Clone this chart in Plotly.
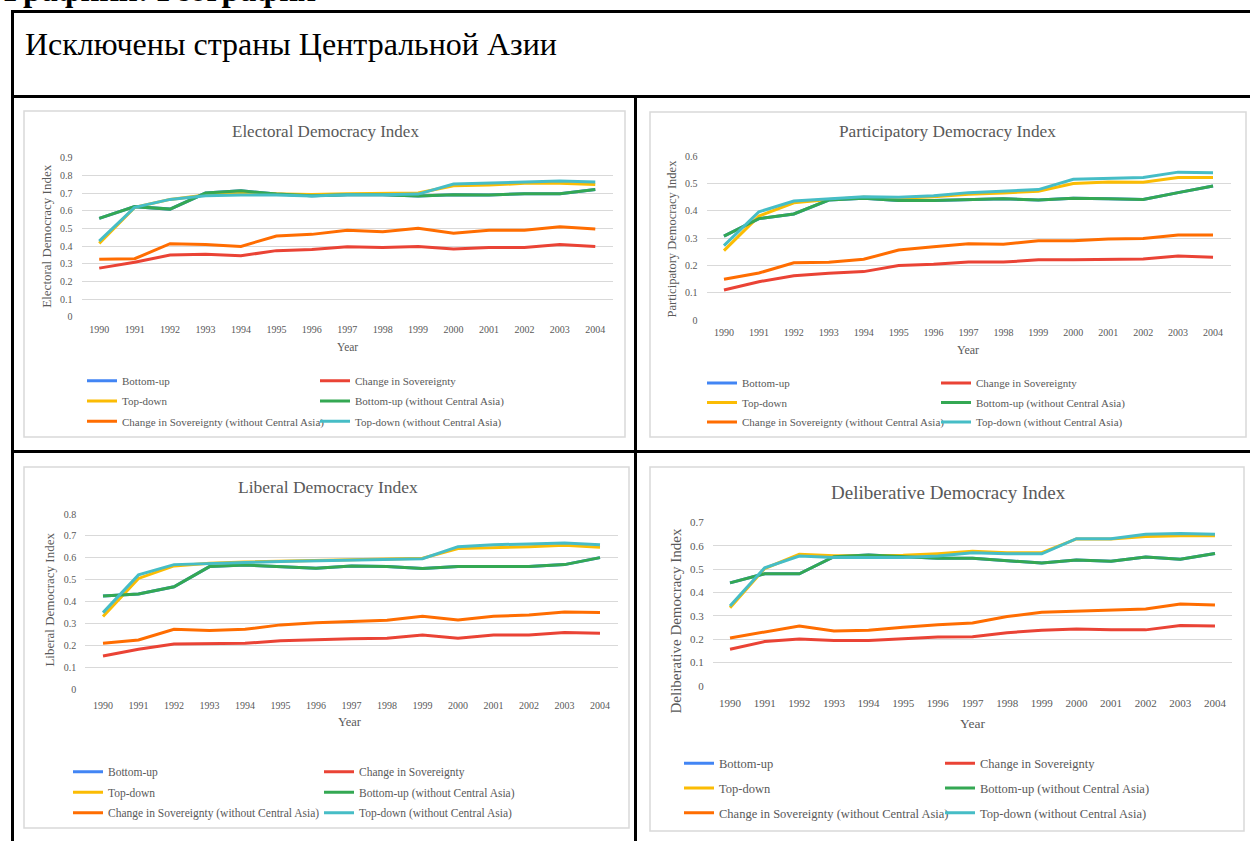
import plotly.graph_objects as go

W, H = 1250, 841

years = list(range(1990, 2005))
series_names = [
    "Bottom-up",
    "Change in Sovereignty",
    "Top-down",
    "Bottom-up (without Central Asia)",
    "Change in Sovereignty (without Central Asia)",
    "Top-down (without Central Asia)",
]
series_colors = ["#4285F4", "#EA4335", "#FBBC04", "#34A853", "#FF6D01", "#46BDC6"]

# Electoral Democracy Index
electoral_bottom_up = [0.557, 0.623, 0.609, 0.700, 0.713, 0.694, 0.685, 0.690, 0.690, 0.683, 0.690, 0.689, 0.696, 0.696, 0.720]
electoral_change = [0.275, 0.308, 0.349, 0.353, 0.345, 0.374, 0.381, 0.396, 0.392, 0.398, 0.383, 0.392, 0.392, 0.409, 0.398]
electoral_top_down = [0.415, 0.619, 0.664, 0.689, 0.698, 0.694, 0.692, 0.696, 0.698, 0.700, 0.741, 0.745, 0.755, 0.755, 0.749]
electoral_bottom_up_noca = [0.557, 0.623, 0.609, 0.700, 0.713, 0.694, 0.685, 0.690, 0.690, 0.683, 0.690, 0.689, 0.696, 0.696, 0.720]
electoral_change_noca = [0.325, 0.328, 0.413, 0.408, 0.398, 0.457, 0.466, 0.489, 0.481, 0.500, 0.472, 0.489, 0.489, 0.509, 0.496]
electoral_top_down_noca = [0.428, 0.619, 0.664, 0.685, 0.689, 0.689, 0.683, 0.690, 0.690, 0.694, 0.751, 0.757, 0.764, 0.768, 0.762]

# Participatory Democracy Index
particip_bottom_up = [0.307, 0.371, 0.388, 0.439, 0.445, 0.437, 0.437, 0.441, 0.444, 0.439, 0.445, 0.444, 0.441, 0.466, 0.490]
particip_change = [0.110, 0.140, 0.162, 0.171, 0.177, 0.199, 0.204, 0.212, 0.212, 0.220, 0.220, 0.222, 0.223, 0.234, 0.230]
particip_top_down = [0.254, 0.380, 0.429, 0.441, 0.449, 0.445, 0.451, 0.460, 0.465, 0.471, 0.499, 0.505, 0.504, 0.521, 0.521]
particip_bottom_up_noca = [0.307, 0.371, 0.388, 0.439, 0.445, 0.437, 0.437, 0.441, 0.444, 0.439, 0.445, 0.444, 0.441, 0.466, 0.490]
particip_change_noca = [0.149, 0.172, 0.209, 0.211, 0.222, 0.256, 0.268, 0.279, 0.277, 0.290, 0.290, 0.296, 0.298, 0.311, 0.311]
particip_top_down_noca = [0.272, 0.396, 0.435, 0.444, 0.451, 0.449, 0.455, 0.466, 0.472, 0.477, 0.515, 0.518, 0.521, 0.541, 0.539]

# Liberal Democracy Index
liberal_bottom_up = [0.426, 0.435, 0.468, 0.560, 0.567, 0.560, 0.552, 0.563, 0.560, 0.551, 0.560, 0.560, 0.560, 0.569, 0.601]
liberal_change = [0.152, 0.183, 0.207, 0.210, 0.210, 0.221, 0.227, 0.231, 0.233, 0.248, 0.233, 0.248, 0.248, 0.259, 0.256]
liberal_top_down = [0.332, 0.506, 0.563, 0.575, 0.581, 0.584, 0.587, 0.590, 0.593, 0.598, 0.642, 0.645, 0.651, 0.657, 0.648]
liberal_bottom_up_noca = [0.426, 0.435, 0.468, 0.560, 0.567, 0.560, 0.552, 0.563, 0.560, 0.551, 0.560, 0.560, 0.560, 0.569, 0.601]
liberal_change_noca = [0.210, 0.225, 0.274, 0.268, 0.274, 0.294, 0.304, 0.310, 0.315, 0.333, 0.316, 0.333, 0.339, 0.353, 0.350]
liberal_top_down_noca = [0.350, 0.522, 0.569, 0.575, 0.579, 0.583, 0.586, 0.589, 0.592, 0.596, 0.651, 0.660, 0.663, 0.668, 0.660]

# Deliberative Democracy Index
delib_bottom_up = [0.441, 0.480, 0.480, 0.553, 0.560, 0.553, 0.546, 0.546, 0.536, 0.526, 0.539, 0.533, 0.552, 0.542, 0.567]
delib_change = [0.157, 0.190, 0.201, 0.195, 0.195, 0.201, 0.210, 0.211, 0.228, 0.238, 0.244, 0.240, 0.240, 0.259, 0.257]
delib_top_down = [0.335, 0.502, 0.563, 0.557, 0.557, 0.559, 0.566, 0.576, 0.570, 0.570, 0.629, 0.629, 0.639, 0.643, 0.642]
delib_bottom_up_noca = [0.441, 0.480, 0.480, 0.553, 0.560, 0.553, 0.546, 0.546, 0.536, 0.526, 0.539, 0.533, 0.552, 0.542, 0.567]
delib_change_noca = [0.205, 0.230, 0.257, 0.235, 0.238, 0.251, 0.262, 0.269, 0.297, 0.315, 0.319, 0.325, 0.329, 0.351, 0.346]
delib_top_down_noca = [0.342, 0.505, 0.556, 0.549, 0.549, 0.549, 0.556, 0.570, 0.565, 0.565, 0.630, 0.630, 0.649, 0.652, 0.649]

chart_titles = ["Electoral Democracy Index", "Participatory Democracy Index",
                "Liberal Democracy Index", "Deliberative Democracy Index"]
y_titles = chart_titles
x_title = "Year"
page_title = "Графики: География"
header_text = "Исключены страны Центральной Азии"

panel_series = [
    [electoral_bottom_up, electoral_change, electoral_top_down,
     electoral_bottom_up_noca, electoral_change_noca, electoral_top_down_noca],
    [particip_bottom_up, particip_change, particip_top_down,
     particip_bottom_up_noca, particip_change_noca, particip_top_down_noca],
    [liberal_bottom_up, liberal_change, liberal_top_down,
     liberal_bottom_up_noca, liberal_change_noca, liberal_top_down_noca],
    [delib_bottom_up, delib_change, delib_top_down,
     delib_bottom_up_noca, delib_change_noca, delib_top_down_noca],
]
y_max = [0.9, 0.6, 0.8, 0.7]

# layout geometry in pixels
panels = [
    dict(x0=81.5, x1=613.0, ytop=157.7, ybot=316.7, frame=(24, 111, 625, 437),
         title_xy=(326, 131.7), tfs=17, tick=10, tstand=5,
         ytitle_xy=(47, 236.7), ytfs=13, xtitle_xy=(347, 347), xtfs=11.5, lfs=11,
         leg_left=82, leg_right=315, row1=380.7, rowgap=20.3),
    dict(x0=706.5, x1=1230.5, ytop=156.0, ybot=320.0, frame=(650, 112, 1246, 437),
         title_xy=(947, 131.7), tfs=17.3, tick=10, tstand=5,
         ytitle_xy=(672, 238.5), ytfs=12.5, xtitle_xy=(968, 350), xtfs=12, lfs=11,
         leg_left=702, leg_right=936, row1=383, rowgap=19.5),
    dict(x0=85.25, x1=617.75, ytop=514.0, ybot=689.3, frame=(24, 467, 629, 828),
         title_xy=(328, 486.7), tfs=17.5, tick=10, tstand=9,
         ytitle_xy=(48.6, 600), ytfs=13, xtitle_xy=(350, 721.7), xtfs=12.5, lfs=11.5,
         leg_left=68, leg_right=319, row1=771.7, rowgap=20.5),
    dict(x0=712.7, x1=1232.3, ytop=522.3, ybot=686.0, frame=(650, 467, 1244, 831),
         title_xy=(948, 492.3), tfs=19, tick=11, tstand=9,
         ytitle_xy=(675, 621.5), ytfs=15, xtitle_xy=(972.5, 723), xtfs=13.5, lfs=12.5,
         leg_left=679, leg_right=940, row1=763, rowgap=24.6),
]

FONT = "Liberation Serif"
GREY = "#595959"
GRID = "#D9D9D9"


def px(x):
    return x / W


def py(y):
    return 1 - y / H


fig = go.Figure()
layout = dict(
    width=W, height=H, margin=dict(l=0, r=0, t=0, b=0, autoexpand=False),
    paper_bgcolor="white", plot_bgcolor="white",
    font=dict(family=FONT, color=GREY),
    annotations=[], shapes=[],
)

left_col = [0, 2, 4]

for k, (p, series) in enumerate(zip(panels, panel_series), start=1):
    xa = "x" if k == 1 else f"x{k}"
    ya = "y" if k == 1 else f"y{k}"
    leg_l = "legend" if k == 1 else f"legend{2 * k - 1}"
    leg_r = f"legend{2 * k}"
    for i, (name, color, vals) in enumerate(zip(series_names, series_colors, series)):
        fig.add_trace(go.Scatter(
            x=years, y=vals, mode="lines", name=name,
            line=dict(color=color, width=3),
            xaxis=xa, yaxis=ya,
            legend=leg_l if i in left_col else leg_r,
            legendgroup=f"p{k}s{i}",
            hoverinfo="x+y+name",
        ))
    gap = p["rowgap"] - 19
    for key, lx in ((leg_l, p["leg_left"]), (leg_r, p["leg_right"])):
        layout[key] = dict(
            x=px(lx), y=py(p["row1"] - 14.5), xanchor="left", yanchor="top",
            orientation="v", bgcolor="rgba(0,0,0,0)", borderwidth=0,
            traceorder="grouped", tracegroupgap=max(gap, 0), itemwidth=30,
            font=dict(family=FONT, size=p["lfs"], color=GREY),
        )
    axkey = "xaxis" if k == 1 else f"xaxis{k}"
    aykey = "yaxis" if k == 1 else f"yaxis{k}"
    layout[axkey] = dict(
        domain=[px(p["x0"]), px(p["x1"])], anchor=ya, automargin=False,
        range=[1989.5, 2004.5], tickmode="array", tickvals=years,
        ticktext=[str(v) for v in years], showgrid=False, zeroline=False,
        showline=False, ticks="", ticklabelstandoff=p["tstand"],
        tickfont=dict(family=FONT, size=p["tick"], color=GREY),
    )
    layout[aykey] = dict(
        domain=[py(p["ybot"]), py(p["ytop"])], anchor=xa, automargin=False,
        range=[0, y_max[k - 1]], dtick=0.1, tick0=0,
        showgrid=True, gridcolor=GRID, gridwidth=1, zeroline=False,
        showline=False, ticks="", ticklabelstandoff=8,
        tickfont=dict(family=FONT, size=p["tick"], color=GREY),
    )
    tx, ty = p["title_xy"]
    layout["annotations"].append(dict(
        text=chart_titles[k - 1], x=px(tx), y=py(ty), xref="paper", yref="paper",
        xanchor="center", yanchor="middle", showarrow=False,
        font=dict(family=FONT, size=p["tfs"], color=GREY),
    ))
    yx, yy = p["ytitle_xy"]
    layout["annotations"].append(dict(
        text=y_titles[k - 1], x=px(yx), y=py(yy), xref="paper", yref="paper",
        xanchor="center", yanchor="middle", showarrow=False, textangle=-90,
        font=dict(family=FONT, size=p["ytfs"], color=GREY),
    ))
    xx, xy = p["xtitle_xy"]
    layout["annotations"].append(dict(
        text=x_title, x=px(xx), y=py(xy), xref="paper", yref="paper",
        xanchor="center", yanchor="middle", showarrow=False,
        font=dict(family=FONT, size=p["xtfs"], color=GREY),
    ))
    fx0, fy0, fx1, fy1 = p["frame"]
    layout["shapes"].append(dict(
        type="rect", xref="paper", yref="paper",
        x0=px(fx0), x1=px(fx1), y0=py(fy0), y1=py(fy1),
        line=dict(color=GRID, width=1.5), fillcolor="rgba(0,0,0,0)", layer="below",
    ))

# table borders
table_lines = [
    (12.5, 11.5, 1260, 11.5),
    (12.5, 10, 12.5, 850),
    (12.5, 96.5, 1260, 96.5),
    (635.5, 96.5, 635.5, 850),
    (12.5, 451.5, 1260, 451.5),
]
for x0, y0, x1, y1 in table_lines:
    layout["shapes"].append(dict(
        type="line", xref="paper", yref="paper",
        x0=px(x0), x1=px(x1), y0=py(y0), y1=py(y1),
        line=dict(color="black", width=3),
    ))

layout["annotations"].append(dict(
    text=f"<b>{page_title}</b>", x=px(2), y=py(-2 + 0.37 * 33), xref="paper", yref="paper",
    xanchor="left", yanchor="bottom", showarrow=False,
    font=dict(family=FONT, size=33, color="black"),
))
layout["annotations"].append(dict(
    text=header_text, x=px(23), y=py(52 + 0.37 * 32), xref="paper", yref="paper",
    xanchor="left", yanchor="bottom", showarrow=False,
    font=dict(family=FONT, size=32, color="black"),
))

fig.update_layout(**layout)
fig.write_html(
    "out.html",
    config={"displayModeBar": False},
    post_script="document.body.style.margin='0';document.body.style.overflow='hidden';",
)
